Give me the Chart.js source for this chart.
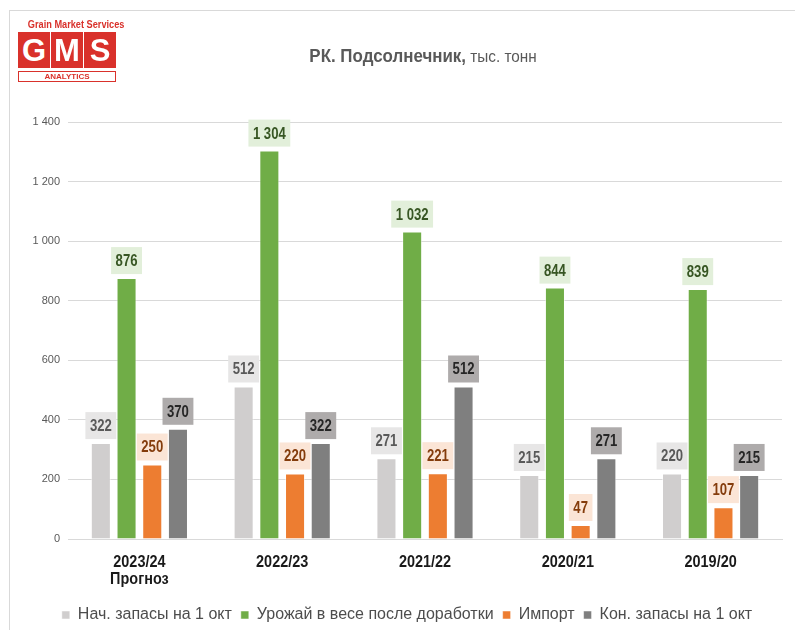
<!DOCTYPE html>
<html>
<head>
<meta charset="utf-8">
<script src="https://cdn.jsdelivr.net/npm/chart.js@4/dist/chart.umd.min.js"></script>
<style>
  body { margin: 0; background: #fff; }
  #wrap { position: relative; width: 795px; height: 630px; overflow: hidden; }
  #frame { position: absolute; left: 9px; top: 10px; width: 800px; height: 630px; border: 1px solid #d9d9d9; box-sizing: border-box; }
  #chart { position: absolute; left: 0; top: 0; }
  .logo { position: absolute; font-family: 'Liberation Sans', Arial, sans-serif; color: #d9312b; font-weight: bold; white-space: nowrap; }
  #logoTop { left: 18px; top: 18px; width: 98px; text-align: center; font-size: 11.5px; transform: scaleX(0.8); transform-origin: 50% 0; }
  .sq { position: absolute; top: 32px; width: 32px; height: 36px; background: #d9312b; color: #fff; font-size: 31px; line-height: 37px; text-align: center; font-family: 'Liberation Sans', Arial, sans-serif; font-weight: bold; }
  #logoBot { left: 18px; top: 71px; width: 98px; height: 11px; border: 1px solid #d9312b; box-sizing: border-box; font-size: 8px; line-height: 9px; text-align: center; }
</style>
</head>
<body>
<div id="wrap">
  <div id="frame"></div>
  <canvas id="chart" width="795" height="630"></canvas>
  <div class="logo" id="logoTop">Grain Market Services</div>
  <div class="sq" style="left:18px">G</div>
  <div class="sq" style="left:51px">M</div>
  <div class="sq" style="left:84px">S</div>
  <div class="logo" id="logoBot">ANALYTICS</div>
</div>
<script>
/* ------------------------------------------------ */

let seasons = [['2023/24', 'Прогноз'], '2022/23', '2021/22', '2020/21', '2019/20'];
let seriesNames = ['Нач. запасы на 1 окт', 'Урожай в весе после доработки', 'Импорт', 'Кон. запасы на 1 окт'];
let openingStocks = [322, 512, 271, 215, 220];
let harvest = [876, 1304, 1032, 844, 839];
let imports = [250, 220, 221, 47, 107];
let closingStocks = [370, 322, 512, 271, 215];

let barColors = ['#d0cece', '#70ad47', '#ed7d31', '#7f7f7f'];
let labelBoxColors = ['#e7e6e6', '#e2efda', '#fbe5d6', '#aeabab'];
let labelTextColors = ['#595959', '#375623', '#843c0c', '#262626'];

let fontFam = "'Liberation Sans', Arial, sans-serif";

function fmt(v) {
  return String(v).replace(/\B(?=(\d{3})+(?!\d))/g, ' ');
}

// text squeezed horizontally, to imitate a narrow font
function narrowText(ctx, txt, x, y, sx) {
  ctx.save();
  ctx.translate(x, y);
  ctx.scale(sx, 1);
  ctx.fillText(txt, 0, 0);
  ctx.restore();
}

/* ------------------------------------------------ */

let valueLabels = {
  id: 'valueLabels',
  afterDatasetsDraw(chart) {
    let ctx = chart.ctx;
    let sx = 0.82;
    ctx.save();
    ctx.font = 'bold 16px ' + fontFam;
    ctx.textAlign = 'center';
    ctx.textBaseline = 'middle';
    chart.data.datasets.forEach((ds, i) => {
      let meta = chart.getDatasetMeta(i);
      meta.data.forEach((bar, j) => {
        let txt = fmt(ds.data[j]);
        let w = ctx.measureText(txt).width * sx + 9;
        let h = 27;
        let yb = bar.y - 4;
        ctx.fillStyle = labelBoxColors[i];
        ctx.fillRect(bar.x - w / 2, yb - h, w, h);
        ctx.fillStyle = labelTextColors[i];
        narrowText(ctx, txt, bar.x, yb - h / 2 + 1, sx);
      });
    });
    ctx.restore();
  }
};

let seasonLabels = {
  id: 'seasonLabels',
  afterDraw(chart) {
    let ctx = chart.ctx;
    let xs = chart.scales.x;
    ctx.save();
    ctx.font = 'bold 17px ' + fontFam;
    ctx.textAlign = 'center';
    ctx.textBaseline = 'middle';
    ctx.fillStyle = '#1a1a1a';
    seasons.forEach((s, i) => {
      let lines = Array.isArray(s) ? s : [s];
      let x = xs.getPixelForValue(i);
      lines.forEach((line, k) => {
        narrowText(ctx, line, x, 562 + k * 17, 0.85);
      });
    });
    ctx.restore();
  }
};

let titleText = {
  id: 'titleText',
  afterDraw(chart) {
    let ctx = chart.ctx;
    let sx = 0.89;
    ctx.save();
    ctx.textBaseline = 'alphabetic';
    ctx.textAlign = 'left';
    ctx.fillStyle = '#595959';
    let boldPart = 'РК. Подсолнечник,';
    let normPart = ' тыс. тонн';
    ctx.font = 'bold 19px ' + fontFam;
    let w1 = ctx.measureText(boldPart).width * sx;
    ctx.font = '17px ' + fontFam;
    let w2 = ctx.measureText(normPart).width * 0.9;
    let x = 423 - (w1 + w2) / 2;
    ctx.font = 'bold 19px ' + fontFam;
    narrowText(ctx, boldPart, x, 62, sx);
    ctx.font = '17px ' + fontFam;
    narrowText(ctx, normPart, x + w1, 62, 0.9);
    ctx.restore();
  }
};

/* ------------------------------------------------ */

function generateChart() {
  let values = [openingStocks, harvest, imports, closingStocks];
  let datasets = values.map((arr, i) => ({
    label: seriesNames[i],
    data: arr,
    backgroundColor: barColors[i],
    borderColor: 'rgba(255,255,255,0.5)',
    borderWidth: 1,
    barPercentage: 0.78,
    categoryPercentage: 0.72,
  }));

  let ctx = document.getElementById('chart').getContext('2d');
  chart = new Chart(ctx, {
    type: 'bar',
    data: { labels: seasons, datasets: datasets },
    plugins: [valueLabels, seasonLabels, titleText],
    options: {
      responsive: false,
      animation: false,
      layout: { padding: { top: 122, right: 13, bottom: -3, left: 32 } },
      plugins: {
        tooltip: { enabled: false },
        legend: {
          position: 'bottom',
          labels: {
            boxWidth: 8,
            boxHeight: 8,
            padding: 9,
            color: '#4d4d4d',
            font: { family: fontFam, size: 16 },
          },
        },
      },
      scales: {
        x: {
          grid: { display: false },
          border: { color: '#d9d9d9' },
          ticks: { display: false },
          afterFit(axis) { axis.height = 59; },
        },
        y: {
          min: 0,
          max: 1400,
          border: { display: false },
          grid: { color: '#d9d9d9', drawTicks: false },
          ticks: {
            stepSize: 200,
            padding: 8,
            color: '#595959',
            font: { family: fontFam, size: 11 },
            callback: (v) => fmt(v),
          },
          afterFit(axis) { axis.width = 36; },
        },
      },
    },
  });
}

generateChart();
</script>
</body>
</html>
